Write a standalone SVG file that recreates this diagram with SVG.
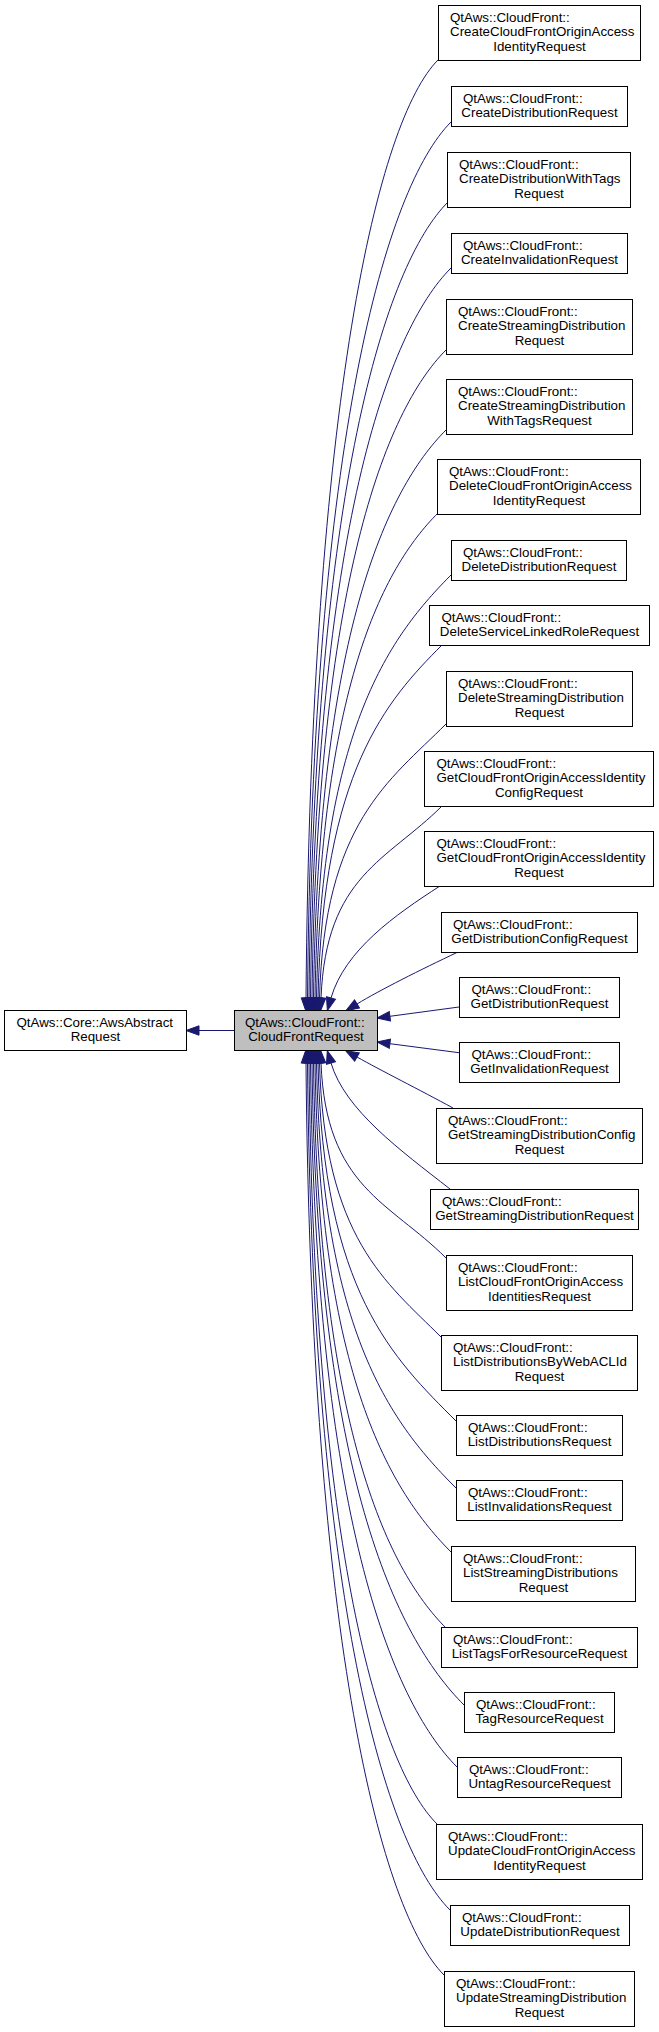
<svg xmlns="http://www.w3.org/2000/svg" width="659" height="2032" viewBox="0 0 659 2032">
<defs>
<style>
.node rect{fill:#ffffff;stroke:#000000;stroke-width:1}
.node.hl rect{fill:#bfbfbf}
.node text{font-family:"Liberation Sans",Arial,Helvetica,sans-serif;font-size:13.33px;fill:#000000}
.node text.c{text-anchor:middle}
.edges path{fill:none;stroke:#191970;stroke-width:1;marker-end:url(#ah)}
</style>
<marker id="ah" markerUnits="userSpaceOnUse" viewBox="0 0 13 9.4" markerWidth="13" markerHeight="9.4" refX="0" refY="4.7" orient="auto" overflow="visible">
<path d="M0,0 L13,4.7 L0,9.4 Z" fill="#191970" stroke="#191970" stroke-width="1"/>
</marker>
</defs>
<rect x="0" y="0" width="659" height="2032" fill="#ffffff"/>
<g id="edges" class="edges">
<path d="M234,1030.5 L199,1030.5"/>
<path d="M438,60 C378.6,119.4 311,397.7 306,998"/>
<path d="M451,122 C386.4,186.6 312.5,437.4 307.5,998"/>
<path d="M448,202 C385.4,264.6 314,488.6 309,998"/>
<path d="M451,268 C387.8,331.2 315.5,530.8 310.5,998"/>
<path d="M446,350 C385.7,410.3 317,583.3 312,998"/>
<path d="M446,430 C386.4,489.6 318.5,634.5 313.5,998"/>
<path d="M438,513 C382.6,568.4 320,687.6 315,998"/>
<path d="M452,574 C391,635 321.5,726.6 316.5,998"/>
<path d="M442,645 C386.2,700.8 323,772 318,998"/>
<path d="M446,724 C389.1,780.9 324.5,822.6 319.5,998"/>
<path d="M442,806 C387.5,860.5 326,875.1 321,998"/>
<path d="M440,886 C395,915 345,950 331,998"/>
<path d="M458,952 C420,970 380,990 357,1004"/>
<path d="M459,1007 L389.9,1016.3"/>
<path d="M459,1052.7 L389.9,1043.7"/>
<path d="M453,1108 C420,1090 380,1070 357,1057"/>
<path d="M450,1189 C400,1150 345,1110 331,1063"/>
<path d="M446,1258 C389.7,1201.7 326,1187.8 321,1063"/>
<path d="M441,1337 C386.3,1282.3 324.5,1238.4 319.5,1063"/>
<path d="M456,1421 C393.9,1358.9 323,1292.1 318,1063"/>
<path d="M456,1488 C393.2,1425.2 321.5,1335 316.5,1063"/>
<path d="M452,1553 C390.3,1491.3 320,1376.6 315,1063"/>
<path d="M446,1628 C386.4,1568.4 318.5,1424.6 313.5,1063"/>
<path d="M464,1705 C395.6,1636.6 317,1473.9 312,1063"/>
<path d="M457,1767 C391.1,1701.1 315.5,1513.6 310.5,1063"/>
<path d="M437,1824 C379.4,1766.4 314,1550 309,1063"/>
<path d="M450,1910 C385.9,1845.9 312.5,1605.1 307.5,1063"/>
<path d="M444,1975 C381.9,1912.9 311,1646.7 306,1063"/>
</g>
<g id="base" class="node"><rect x="4.5" y="1010.5" width="182" height="40"/><text x="16.5" y="1026.5">QtAws::Core::AwsAbstract</text><text class="c" x="95.5" y="1041.2">Request</text></g>
<g id="center" class="node hl"><rect x="234.5" y="1010.5" width="143" height="40"/><text x="245" y="1026.5">QtAws::CloudFront::</text><text class="c" x="306" y="1041.2">CloudFrontRequest</text></g>
<g id="n1" class="node"><rect x="438.5" y="5.5" width="202" height="55"/><text x="450" y="21.5">QtAws::CloudFront::</text><text x="450" y="36.2">CreateCloudFrontOriginAccess</text><text class="c" x="539.5" y="50.8">IdentityRequest</text></g>
<g id="n2" class="node"><rect x="451.5" y="86.5" width="176" height="40"/><text x="463" y="102.5">QtAws::CloudFront::</text><text class="c" x="539.5" y="117.2">CreateDistributionRequest</text></g>
<g id="n3" class="node"><rect x="447.5" y="152.5" width="183" height="55"/><text x="459" y="168.5">QtAws::CloudFront::</text><text x="459" y="183.2">CreateDistributionWithTags</text><text class="c" x="539" y="197.8">Request</text></g>
<g id="n4" class="node"><rect x="451.5" y="233.5" width="176" height="40"/><text x="463" y="249.5">QtAws::CloudFront::</text><text class="c" x="539.5" y="264.2">CreateInvalidationRequest</text></g>
<g id="n5" class="node"><rect x="446.5" y="299.5" width="186" height="55"/><text x="458" y="315.5">QtAws::CloudFront::</text><text x="458" y="330.2">CreateStreamingDistribution</text><text class="c" x="539.5" y="344.8">Request</text></g>
<g id="n6" class="node"><rect x="446.5" y="379.5" width="186" height="55"/><text x="458" y="395.5">QtAws::CloudFront::</text><text x="458" y="410.2">CreateStreamingDistribution</text><text class="c" x="539.5" y="424.8">WithTagsRequest</text></g>
<g id="n7" class="node"><rect x="437.5" y="459.5" width="203" height="55"/><text x="449" y="475.5">QtAws::CloudFront::</text><text x="449" y="490.2">DeleteCloudFrontOriginAccess</text><text class="c" x="539" y="504.8">IdentityRequest</text></g>
<g id="n8" class="node"><rect x="451.5" y="540.5" width="175" height="40"/><text x="463" y="556.5">QtAws::CloudFront::</text><text class="c" x="539" y="571.2">DeleteDistributionRequest</text></g>
<g id="n9" class="node"><rect x="429.5" y="605.5" width="220" height="40"/><text x="441.5" y="621.5">QtAws::CloudFront::</text><text class="c" x="539.5" y="636.2">DeleteServiceLinkedRoleRequest</text></g>
<g id="n10" class="node"><rect x="446.5" y="671.5" width="186" height="55"/><text x="458" y="687.5">QtAws::CloudFront::</text><text x="458" y="702.2">DeleteStreamingDistribution</text><text class="c" x="539.5" y="716.8">Request</text></g>
<g id="n11" class="node"><rect x="424.5" y="751.5" width="229" height="55"/><text x="436.5" y="767.5">QtAws::CloudFront::</text><text x="436.5" y="782.2">GetCloudFrontOriginAccessIdentity</text><text class="c" x="539" y="796.8">ConfigRequest</text></g>
<g id="n12" class="node"><rect x="424.5" y="831.5" width="229" height="55"/><text x="436.5" y="847.5">QtAws::CloudFront::</text><text x="436.5" y="862.2">GetCloudFrontOriginAccessIdentity</text><text class="c" x="539" y="876.8">Request</text></g>
<g id="n13" class="node"><rect x="441.5" y="912.5" width="196" height="40"/><text x="453" y="928.5">QtAws::CloudFront::</text><text class="c" x="539.5" y="943.2">GetDistributionConfigRequest</text></g>
<g id="n14" class="node"><rect x="459.5" y="977.5" width="160" height="40"/><text x="471.5" y="993.5">QtAws::CloudFront::</text><text class="c" x="539.5" y="1008.2">GetDistributionRequest</text></g>
<g id="n15" class="node"><rect x="459.5" y="1042.5" width="160" height="40"/><text x="471.5" y="1058.5">QtAws::CloudFront::</text><text class="c" x="539.5" y="1073.2">GetInvalidationRequest</text></g>
<g id="n16" class="node"><rect x="436.5" y="1108.5" width="206" height="55"/><text x="448" y="1124.5">QtAws::CloudFront::</text><text x="448" y="1139.2">GetStreamingDistributionConfig</text><text class="c" x="539.5" y="1153.8">Request</text></g>
<g id="n17" class="node"><rect x="430.5" y="1189.5" width="208" height="40"/><text x="442" y="1205.5">QtAws::CloudFront::</text><text class="c" x="534.5" y="1220.2">GetStreamingDistributionRequest</text></g>
<g id="n18" class="node"><rect x="446.5" y="1255.5" width="186" height="55"/><text x="458" y="1271.5">QtAws::CloudFront::</text><text x="458" y="1286.2">ListCloudFrontOriginAccess</text><text class="c" x="539.5" y="1300.8">IdentitiesRequest</text></g>
<g id="n19" class="node"><rect x="441.5" y="1335.5" width="196" height="55"/><text x="453" y="1351.5">QtAws::CloudFront::</text><text x="453" y="1366.2">ListDistributionsByWebACLId</text><text class="c" x="539.5" y="1380.8">Request</text></g>
<g id="n20" class="node"><rect x="456.5" y="1415.5" width="166" height="40"/><text x="468" y="1431.5">QtAws::CloudFront::</text><text class="c" x="539.5" y="1446.2">ListDistributionsRequest</text></g>
<g id="n21" class="node"><rect x="456.5" y="1480.5" width="166" height="40"/><text x="468" y="1496.5">QtAws::CloudFront::</text><text class="c" x="539.5" y="1511.2">ListInvalidationsRequest</text></g>
<g id="n22" class="node"><rect x="451.5" y="1546.5" width="184" height="55"/><text x="463" y="1562.5">QtAws::CloudFront::</text><text x="463" y="1577.2">ListStreamingDistributions</text><text class="c" x="543.5" y="1591.8">Request</text></g>
<g id="n23" class="node"><rect x="441.5" y="1627.5" width="196" height="40"/><text x="453" y="1643.5">QtAws::CloudFront::</text><text class="c" x="539.5" y="1658.2">ListTagsForResourceRequest</text></g>
<g id="n24" class="node"><rect x="464.5" y="1692.5" width="150" height="40"/><text x="476" y="1708.5">QtAws::CloudFront::</text><text class="c" x="539.5" y="1723.2">TagResourceRequest</text></g>
<g id="n25" class="node"><rect x="457.5" y="1757.5" width="164" height="40"/><text x="469" y="1773.5">QtAws::CloudFront::</text><text class="c" x="539.5" y="1788.2">UntagResourceRequest</text></g>
<g id="n26" class="node"><rect x="436.5" y="1824.5" width="206" height="55"/><text x="448" y="1840.5">QtAws::CloudFront::</text><text x="448" y="1855.2">UpdateCloudFrontOriginAccess</text><text class="c" x="539.5" y="1869.8">IdentityRequest</text></g>
<g id="n27" class="node"><rect x="450.5" y="1905.5" width="179" height="40"/><text x="462" y="1921.5">QtAws::CloudFront::</text><text class="c" x="540" y="1936.2">UpdateDistributionRequest</text></g>
<g id="n28" class="node"><rect x="444.5" y="1971.5" width="190" height="55"/><text x="456" y="1987.5">QtAws::CloudFront::</text><text x="456" y="2002.2">UpdateStreamingDistribution</text><text class="c" x="539.5" y="2016.8">Request</text></g>
</svg>
